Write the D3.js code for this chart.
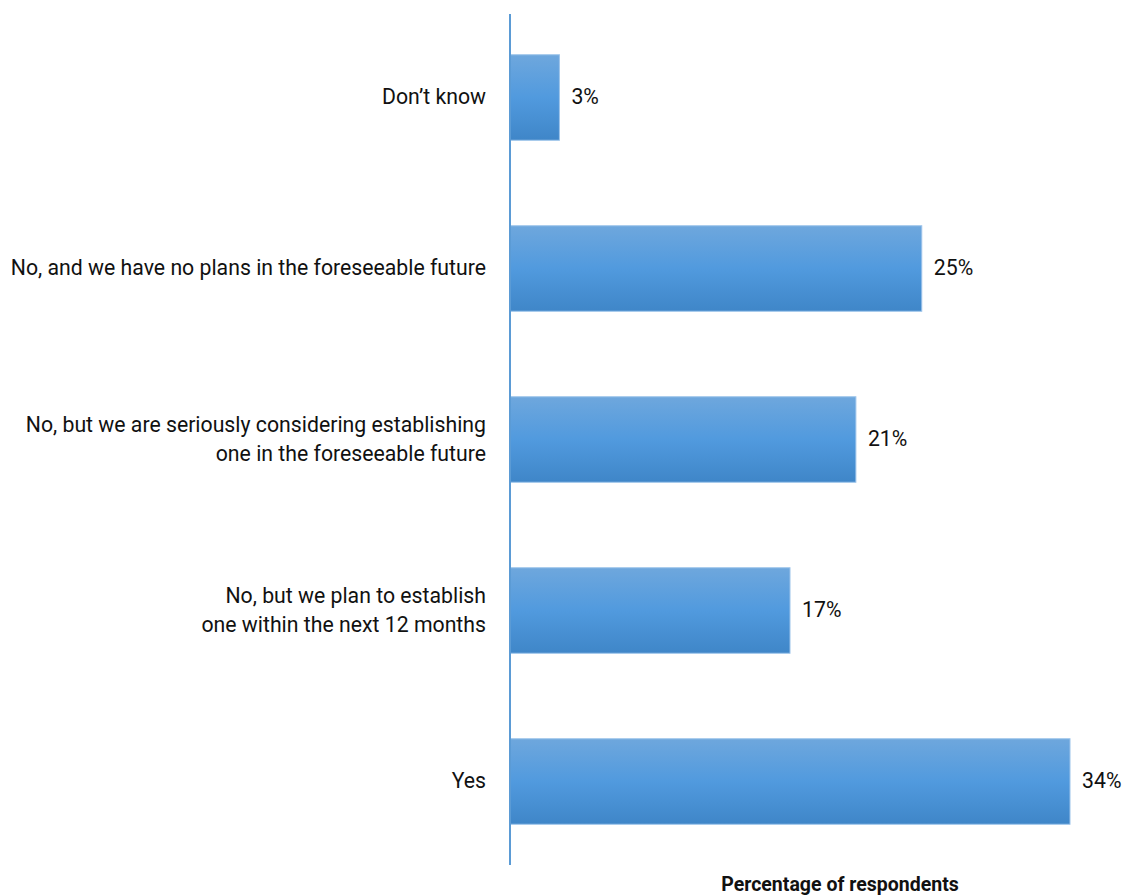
<!DOCTYPE html>
<html>
<head>
<meta charset="utf-8">
<script src="https://cdn.jsdelivr.net/npm/d3@7"></script>
<style>
  body { margin: 0; background: #fff; }
  text { font-family: "Roboto", "DejaVu Sans Condensed", sans-serif; fill: #111; }
</style>
</head>
<body>
<div id="chart"></div>
<script>
'use strict';

// data, top to bottom
var categories = [
  "Don\u2019t know",
  "No, and we have no plans in the foreseeable future",
  "No, but we are seriously considering establishing|one in the foreseeable future",
  "No, but we plan to establish|one within the next 12 months",
  "Yes"
];
var values = [3, 25, 21, 17, 34];
var axisTitle = "Percentage of respondents";

var width = 1123, height = 896;
var squeeze = 0.945;   // Roboto squeezed a little to look like the condensed face
var fontSize = 22.5;

var svg = d3.select("#chart").append("svg")
  .attr("width", width)
  .attr("height", height);

// gradient for bars
var grad = svg.append("defs").append("linearGradient")
  .attr("id", "barGrad")
  .attr("x1", 0).attr("y1", 0).attr("x2", 0).attr("y2", 1);
grad.append("stop").attr("offset", "0%").attr("stop-color", "#6ea7dd");
grad.append("stop").attr("offset", "50%").attr("stop-color", "#519ade");
grad.append("stop").attr("offset", "100%").attr("stop-color", "#3f86c8");

var x = d3.scaleLinear().domain([0, 34]).range([510, 1070]);
var y = d3.scaleBand().domain(categories).range([12, 867]).paddingInner(0.5).paddingOuter(0.25);

var data = categories.map(function(c, i) { return { cat: c, val: values[i] }; });

// bars
svg.selectAll("rect.bar")
  .data(data)
  .enter()
  .append("rect")
  .attr("class", "bar")
  .attr("x", x(0))
  .attr("y", function(d) { return y(d.cat); })
  .attr("width", function(d) { return x(d.val) - x(0); })
  .attr("height", y.bandwidth())
  .attr("fill", "url(#barGrad)")
  .attr("stroke", "#9cc3ea")
  .attr("stroke-width", 1);

// value labels
svg.selectAll("text.val")
  .data(data)
  .enter()
  .append("text")
  .attr("class", "val")
  .attr("transform", function(d) {
    return "translate(" + (x(d.val) + 12) + "," + (y(d.cat) + y.bandwidth() / 2) + ") scale(" + squeeze + ",1)";
  })
  .attr("dy", "0.3em")
  .attr("font-size", fontSize)
  .text(function(d) { return d.val + "%"; });

// category labels (| splits lines)
var lineH = 29;
svg.selectAll("text.cat")
  .data(data)
  .enter()
  .append("text")
  .attr("class", "cat")
  .attr("text-anchor", "end")
  .attr("font-size", fontSize)
  .attr("transform", function(d) {
    return "translate(486," + (y(d.cat) + y.bandwidth() / 2) + ") scale(" + squeeze + ",1)";
  })
  .each(function(d) {
    var lines = d.cat.split("|");
    var t = d3.select(this);
    lines.forEach(function(l, i) {
      t.append("tspan")
        .attr("x", 0)
        .attr("y", (i - (lines.length - 1) / 2) * lineH)
        .attr("dy", "0.3em")
        .text(l);
    });
  });

// vertical axis line
svg.append("line")
  .attr("x1", x(0)).attr("x2", x(0))
  .attr("y1", 14).attr("y2", 865)
  .attr("stroke", "#5b9bd5")
  .attr("stroke-width", 2);

// axis title
svg.append("text")
  .attr("transform", "translate(840,884) scale(0.93,1)")
  .attr("dy", "0.35em")
  .attr("text-anchor", "middle")
  .attr("font-size", 21)
  .attr("font-weight", "bold")
  .text(axisTitle);
</script>
</body>
</html>
